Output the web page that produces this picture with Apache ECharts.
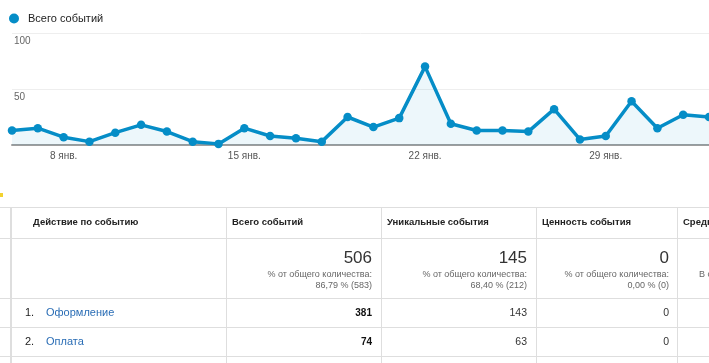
<!DOCTYPE html>
<html>
<head>
<meta charset="utf-8">
<script src="https://cdn.jsdelivr.net/npm/echarts@6/dist/echarts.min.js"></script>
<style>
  html, body { margin: 0; padding: 0; width: 709px; height: 363px; overflow: hidden; background: #fff; font-family: Arial, "Liberation Sans", sans-serif; }
  #chart { position: absolute; left: 0; top: 0; width: 709px; height: 190px; }
  #table { position: absolute; left: 0; top: 0; width: 709px; height: 363px; overflow: hidden; }
  .hl { position: absolute; height: 1px; background: #dedede; }
  .vl { position: absolute; width: 1px; background: #dedede; }
  .t { position: absolute; white-space: nowrap; color: #222; }
</style>
</head>
<body>
<div id="chart"></div>
<div id="table"></div>
<script>
// ---- chart data ----
const days = ['6 янв.','7 янв.','8 янв.','9 янв.','10 янв.','11 янв.','12 янв.','13 янв.','14 янв.','15 янв.','16 янв.','17 янв.','18 янв.','19 янв.','20 янв.','21 янв.','22 янв.','23 янв.','24 янв.','25 янв.','26 янв.','27 янв.','28 янв.','29 янв.','30 янв.','31 янв.','1 февр.','2 февр.'];
const totalEvents = [13,15,7,3,11,18,12,3,1,15,8,6,3,25,16,24,70,19,13,13,12,32,5,8,39,15,27,25];
const seriesName = 'Всего событий';
const yTicks = [0, 50, 100];

// ---- table data ----
const headers = ['Действие по событию', 'Всего событий', 'Уникальные события', 'Ценность события', 'Средняя ценность'];
const totalsMain = ['506', '145', '0'];
const totalsSub1 = ['% от общего количества:', '% от общего количества:', '% от общего количества:'];
const totalsSub2 = ['86,79 % (583)', '68,40 % (212)', '0,00 % (0)'];
const lastColSub = 'В среднем для представления:';
const rowIndex = ['1.', '2.'];
const rowNames = ['Оформление', 'Оплата'];
const rowTotal = ['381', '74'];
const rowUnique = ['143', '63'];
const rowValue = ['0', '0'];

const chart = echarts.init(document.getElementById('chart'), null, { renderer: 'canvas' });
chart.setOption({
  animation: false,
  textStyle: { fontFamily: 'Arial, "Liberation Sans", sans-serif' },
  legend: {
    left: 4, top: 8, icon: 'circle', itemWidth: 10, itemHeight: 10,
    textStyle: { fontSize: 11, color: '#222', padding: [0, 0, 0, 4] },
    data: [seriesName]
  },
  grid: { left: 12, right: -9, top: 33, bottom: 45, containLabel: false },
  xAxis: {
    type: 'category', data: days, boundaryGap: false,
    axisLine: { lineStyle: { color: '#9e9e9e', width: 2 } },
    axisTick: { show: false },
    axisLabel: { interval: (i) => i % 7 === 2, color: '#555', fontSize: 10, margin: 6 },
    splitLine: { show: false }
  },
  yAxis: {
    type: 'value', min: yTicks[0], max: yTicks[yTicks.length - 1], interval: yTicks[1] - yTicks[0],
    axisLine: { show: false }, axisTick: { show: false },
    axisLabel: { inside: true, showMinLabel: false, verticalAlign: 'top', padding: [3, 0, 0, 0], margin: 2, color: '#666', fontSize: 10 },
    splitLine: { lineStyle: { color: '#eeeeee', width: 1 } }
  },
  series: [{
    name: seriesName, type: 'line', data: totalEvents,
    symbol: 'circle', symbolSize: 8.5, showSymbol: true,
    lineStyle: { color: '#058dc7', width: 3.5 },
    itemStyle: { color: '#058dc7' },
    areaStyle: { color: 'rgba(5,141,199,0.1)' }
  }]
});

// ---- table layout ----
const T = document.getElementById('table');
function el(cls, style, text) {
  const d = document.createElement('div');
  d.className = cls;
  Object.assign(d.style, style);
  if (text !== undefined) d.textContent = text;
  T.appendChild(d);
  return d;
}
const colX = [11, 226, 381, 536, 677, 860];
const rowY = [207, 238, 298, 327, 356, 385];
// yellow artifact
el('x', { position: 'absolute', left: '0px', top: '193px', width: '3px', height: '4px', background: '#f2d230' });
rowY.forEach(y => el('hl', { left: '0px', top: y + 'px', width: '709px' }));
el('vl', { left: '10px', top: '207px', height: '160px', width: '2px' });
colX.slice(1).forEach(x => el('vl', { left: x + 'px', top: '207px', height: '160px' }));

// headers
const hx = [33, 232, 387, 542, 683];
headers.forEach((h, i) => el('t', { left: hx[i] + 'px', top: '216px', fontSize: '9.5px', fontWeight: 'bold', lineHeight: '12px' }, h));

// totals
const rightEdge = [372, 527, 669];
for (let i = 0; i < 3; i++) {
  const r = (709 - rightEdge[i]) + 'px';
  el('t', { right: r, top: '248px', fontSize: '17px', lineHeight: '20px', color: '#333' }, totalsMain[i]);
  el('t', { right: r, top: '269px', fontSize: '9px', lineHeight: '11px', color: '#666', textAlign: 'right' }, totalsSub1[i]);
  el('t', { right: r, top: '280px', fontSize: '9px', lineHeight: '11px', color: '#666', textAlign: 'right' }, totalsSub2[i]);
}
el('t', { left: '699px', top: '269px', fontSize: '9px', lineHeight: '11px', color: '#666' }, lastColSub);

// rows
for (let r = 0; r < rowNames.length; r++) {
  const top = (rowY[2 + r] + 8) + 'px';
  el('t', { left: '25px', top, fontSize: '11px', lineHeight: '13px', color: '#222' }, rowIndex[r]);
  el('t', { left: '46px', top, fontSize: '11px', lineHeight: '13px', color: '#2a6db5' }, rowNames[r]);
  el('t', { right: (709 - rightEdge[0]) + 'px', top, fontSize: '10px', lineHeight: '13px', fontWeight: 'bold', color: '#111' }, rowTotal[r]);
  el('t', { right: (709 - rightEdge[1]) + 'px', top, fontSize: '10.5px', lineHeight: '13px', color: '#333' }, rowUnique[r]);
  el('t', { right: (709 - rightEdge[2]) + 'px', top, fontSize: '10.5px', lineHeight: '13px', color: '#333' }, rowValue[r]);
}
</script>
</body>
</html>
